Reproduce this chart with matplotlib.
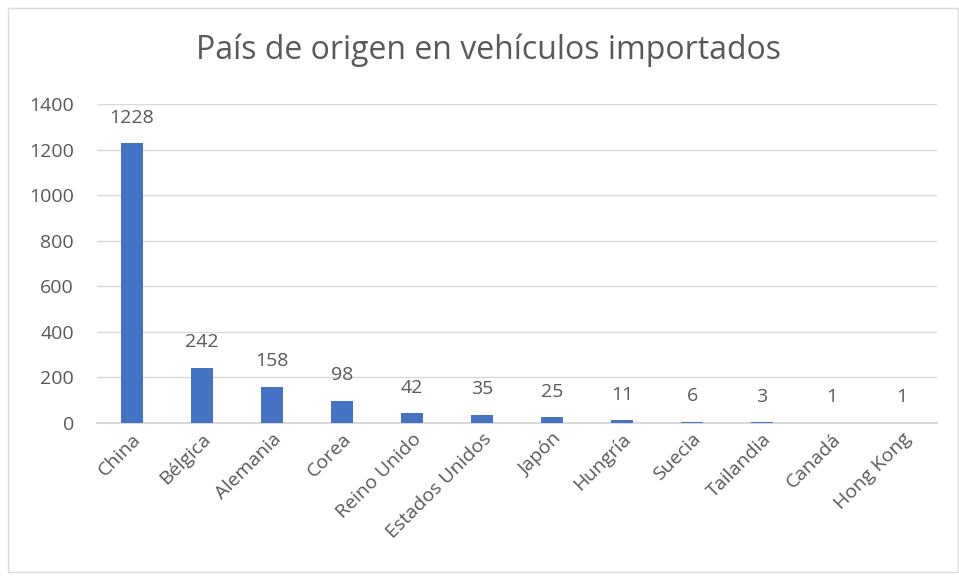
import matplotlib.pyplot as plt
from matplotlib.patches import Rectangle
import numpy as np

paises = ["China", "Bélgica", "Alemania", "Corea", "Reino Unido", "Estados Unidos",
          "Japón", "Hungría", "Suecia", "Tailandia", "Canadá", "Hong Kong"]
vehiculos = [1228, 242, 158, 98, 42, 35, 25, 11, 6, 3, 1, 1]
yticks = [0, 200, 400, 600, 800, 1000, 1200, 1400]

TEXT = "#595959"
GRID = "#D9D9D9"
BAR = "#4472C4"

plt.rcParams["font.family"] = ["Open Sans", "DejaVu Sans"]

fig = plt.figure(figsize=(9.59, 5.80), dpi=100)
fig.patches.append(Rectangle((8 / 959, 8 / 580), 950 / 959, 564 / 580,
                             transform=fig.transFigure, fill=False,
                             edgecolor=GRID, lw=1))

ax = fig.add_axes([97 / 959, 1 - 423 / 580, 840 / 959, 319 / 580])
x = np.arange(len(paises))
ax.bar(x, vehiculos, width=0.31, color=BAR, zorder=3)
for xi, v in zip(x, vehiculos):
    ax.annotate(str(v), (xi, v), xytext=(0, 12), textcoords="offset points",
                ha="center", va="bottom", fontsize=14, color=TEXT)

ax.set_xlim(-0.5, len(paises) - 0.5)
ax.set_ylim(0, 1400)
ax.set_yticks(yticks)
ax.set_yticklabels([str(t) for t in yticks], fontsize=14, color=TEXT)
ax.set_xticks(x)
ax.set_xticklabels(paises, rotation=45, ha="right", rotation_mode="anchor",
                   fontsize=14, color=TEXT)
ax.tick_params(axis="both", length=0)
ax.tick_params(axis="y", pad=16.5)
ax.tick_params(axis="x", pad=5)
ax.grid(axis="y", color=GRID, lw=1, zorder=0)
for s in ["top", "right", "left"]:
    ax.spines[s].set_visible(False)
ax.spines["bottom"].set_color(GRID)
ax.spines["bottom"].set_linewidth(1.5)

fig.text(488 / 959, 1 - 50 / 580, "País de origen en vehículos importados",
         ha="center", va="center", fontsize=23, color=TEXT)

fig.savefig("out.png", dpi=100)
